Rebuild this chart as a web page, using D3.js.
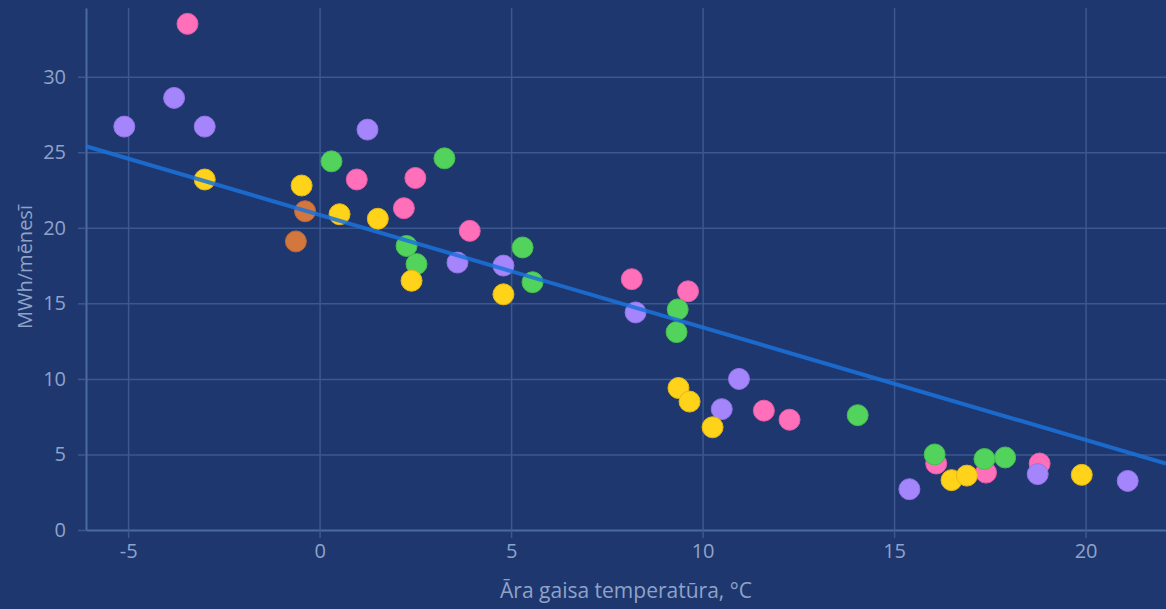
<!DOCTYPE html>
<html>
<head>
<meta charset="utf-8">
<script src="https://cdn.jsdelivr.net/npm/d3@7"></script>
<style>
  html, body { margin: 0; padding: 0; background: #1e376f; }
  svg { display: block; font-family: 'Open Sans', sans-serif; }
</style>
</head>
<body>
<div id="chart"></div>
<script>
// Heating energy per month vs outdoor temperature, one series per building
const purpleTemp = [-5.1, -3.8, -3.0, 1.25, 3.6, 4.8, 8.25, 10.5, 10.95, 15.4, 18.75, 21.1];
const purpleMwh = [26.7, 28.6, 26.7, 26.5, 17.7, 17.5, 14.4, 8.0, 10.0, 2.7, 3.7, 3.25];

const pinkTemp = [-3.45, 0.97, 2.2, 2.5, 3.92, 8.15, 9.62, 11.6, 12.27, 16.1, 17.4, 18.8];
const pinkMwh = [33.5, 23.2, 21.3, 23.3, 19.8, 16.6, 15.8, 7.9, 7.3, 4.4, 3.8, 4.4];

const greenTemp = [0.31, 3.26, 2.27, 2.53, 5.3, 5.56, 9.35, 9.32, 14.05, 16.06, 17.36, 17.9];
const greenMwh = [24.4, 24.6, 18.8, 17.6, 18.7, 16.4, 14.6, 13.1, 7.6, 5.0, 4.7, 4.8];

const yellowTemp = [-3.0, -0.47, 0.52, 1.52, 2.4, 4.8, 9.37, 9.66, 10.26, 16.5, 16.9, 19.9];
const yellowMwh = [23.2, 22.8, 20.9, 20.6, 16.5, 15.6, 9.4, 8.5, 6.8, 3.3, 3.6, 3.65];

const orangeTemp = [-0.62, -0.38];
const orangeMwh = [19.1, 21.1];

// fitted trend line, read at the plot's left and right edges
const trendTemp = [-6.1, 22.1];
const trendMwh = [25.4, 4.4];

const xTicks = [-5, 0, 5, 10, 15, 20];
const yTicks = [0, 5, 10, 15, 20, 25, 30];

const series = [
  { temp: pinkTemp, mwh: pinkMwh, fill: '#ff6fba', stroke: '#e85ca6' },
  { temp: purpleTemp, mwh: purpleMwh, fill: '#a585fb', stroke: '#9374e6' },
  { temp: greenTemp, mwh: greenMwh, fill: '#52d45c', stroke: '#46bd50' },
  { temp: yellowTemp, mwh: yellowMwh, fill: '#ffd31a', stroke: '#e6b90f' },
  { temp: orangeTemp, mwh: orangeMwh, fill: '#d4773f', stroke: '#bd6835' }
];

const width = 1166;
const height = 609;
const margin = { top: 8, right: 0, bottom: 79, left: 86 };
const chartWidth = width - margin.left - margin.right;
const chartHeight = height - margin.top - margin.bottom;

const GRID = '#3b5890';
const AXIS = '#4b6aa1';
const LABEL = '#8fa3c9';

const x = d3.scaleLinear().domain([-6.1, 22.1]).range([0, chartWidth]);
const y = d3.scaleLinear().domain([0, 34.55]).range([chartHeight, 0]);

const svg = d3
  .select('#chart')
  .append('svg')
  .attr('width', width)
  .attr('height', height);

svg.append('rect').attr('width', width).attr('height', height).attr('fill', '#1e376f');

const g = svg.append('g').attr('transform', `translate(${margin.left},${margin.top})`);

// gridlines
g.append('g')
  .call(d3.axisLeft(y).tickValues(yTicks.slice(1)).tickSize(-chartWidth).tickFormat(''))
  .call((s) => s.select('.domain').remove())
  .selectAll('line')
  .attr('stroke', GRID)
  .attr('stroke-width', 1.5);

g.append('g')
  .attr('transform', `translate(0,${chartHeight})`)
  .call(d3.axisBottom(x).tickValues(xTicks).tickSize(-chartHeight).tickFormat(''))
  .call((s) => s.select('.domain').remove())
  .selectAll('line')
  .attr('stroke', GRID)
  .attr('stroke-width', 1.5);

// axes with short outer ticks
const yAxis = g
  .append('g')
  .call(d3.axisLeft(y).tickValues(yTicks).tickSize(8).tickSizeOuter(0).tickPadding(12));
const xAxis = g
  .append('g')
  .attr('transform', `translate(0,${chartHeight})`)
  .call(
    d3
      .axisBottom(x)
      .tickValues(xTicks)
      .tickSize(8)
      .tickSizeOuter(0)
      .tickPadding(6)
      .tickFormat((d) => (d < 0 ? '-' + Math.abs(d) : d))
  );

[xAxis, yAxis].forEach((a) => {
  a.select('.domain').attr('stroke', AXIS).attr('stroke-width', 2);
  a.selectAll('.tick line').attr('stroke', GRID).attr('stroke-width', 1.5);
  a.selectAll('.tick text')
    .attr('fill', LABEL)
    .attr('font-size', 20)
    .attr('font-family', "'Open Sans', sans-serif");
});

// points
series.forEach((s) => {
  g.append('g')
    .selectAll('circle')
    .data(s.temp.map((t, i) => ({ t, v: s.mwh[i] })))
    .join('circle')
    .attr('cx', (d) => x(d.t))
    .attr('cy', (d) => y(d.v))
    .attr('r', 10.5)
    .attr('fill', s.fill)
    .attr('stroke', s.stroke)
    .attr('stroke-width', 1);
});

// trend line drawn over the points
g.append('path')
  .datum(trendTemp.map((t, i) => ({ t, v: trendMwh[i] })))
  .attr('fill', 'none')
  .attr('stroke', '#1a72dc')
  .attr('stroke-opacity', 0.85)
  .attr('stroke-width', 4)
  .attr('d', d3.line().x((d) => x(d.t)).y((d) => y(d.v)));

// axis titles
svg
  .append('text')
  .attr('x', margin.left + chartWidth / 2)
  .attr('y', 598)
  .attr('text-anchor', 'middle')
  .attr('fill', LABEL)
  .attr('font-size', 21)
  .text('Āra gaisa temperatūra, °C');

svg
  .append('text')
  .attr('transform', 'translate(32,267) rotate(-90)')
  .attr('text-anchor', 'middle')
  .attr('fill', LABEL)
  .attr('font-size', 20)
  .text('MWh/mēnesī');
</script>
</body>
</html>
